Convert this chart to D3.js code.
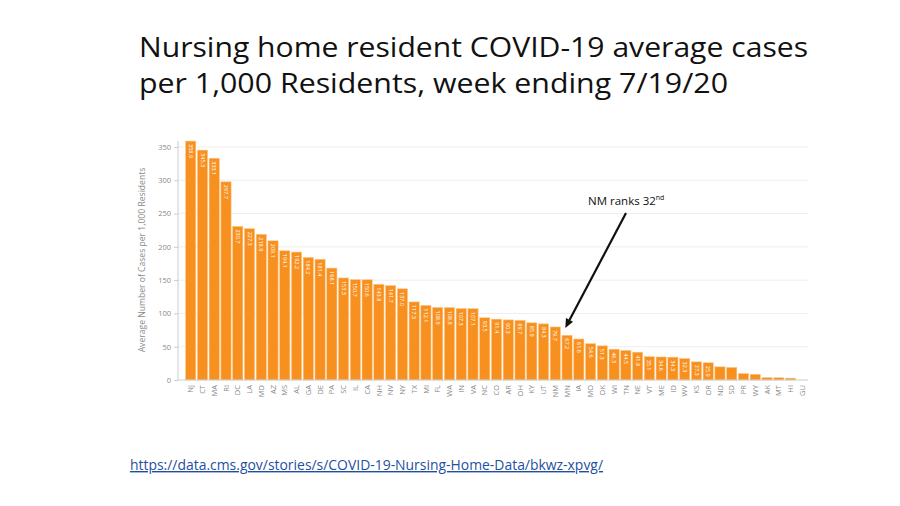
<!DOCTYPE html>
<html><head><meta charset="utf-8">
<script src="https://cdn.jsdelivr.net/npm/d3@7"></script>
<style>body{margin:0;background:#fff}svg{display:block}</style>
</head><body><svg id="c" width="900" height="506"></svg>
<script>
const states = ["NJ","CT","MA","RI","DC","LA","MD","AZ","MS","AL","GA","DE","PA","SC","IL","CA","NH","NV","NY","TX","MI","FL","WA","IN","VA","NC","CO","AR","OH","KY","UT","NM","MN","IA","MO","OK","WI","TN","NE","VT","ME","ID","WV","KS","OR","ND","SD","PR","WY","AK","MT","HI","GU"];
const values = [358.9,345.3,333.1,297.7,230.7,227.3,218.9,209.1,194.1,192.2,184.2,181.4,168.1,153.3,150.7,150.6,143.8,141.7,137.0,117.3,112.1,108.9,108.8,107.3,107.1,93.5,91.4,90.3,89.7,85.9,84.3,79.7,67.2,61.6,54.6,51.3,46.3,44.5,41.8,35.1,34.6,34.3,32.3,27.3,25.9,19.8,18.9,9.6,8.6,3.5,3.4,2.8,0];
const yTicks = [0,50,100,150,200,250,300,350];
const titleLines = ["Nursing home resident COVID-19 average cases","per 1,000 Residents, week ending 7/19/20"];
const yTitle = "Average Number of Cases per 1,000 Residents";
const sourceUrl = "https://data.cms.gov/stories/s/COVID-19-Nursing-Home-Data/bkwz-xpvg/";
const highlight = "NM";

const svg = d3.select("#c");
const x = d3.scaleBand().domain(states).range([185, 808]).paddingInner(0.13).paddingOuter(0.05);
const y = d3.scaleLinear().domain([0, 359]).range([380, 141]);

// Title
svg.append("g").selectAll("text").data(titleLines).join("text")
  .attr("x", 139).attr("y", (d,i)=>57 + i*36)
  .attr("font-family","Open Sans, sans-serif").attr("font-size",28).attr("fill","#111")
  .attr("textLength",(d,i)=> i===0 ? 669 : 589).attr("lengthAdjust","spacingAndGlyphs")
  .text(d=>d);

// gridlines
svg.append("g").selectAll("line").data(yTicks.filter(d=>d>0)).join("line")
  .attr("x1",178).attr("x2",808).attr("y1",d=>y(d)).attr("y2",d=>y(d))
  .attr("stroke","#eeeeee").attr("stroke-width",1);

// y axis
const yAxis = svg.append("g").attr("transform","translate(178,0)")
  .call(d3.axisLeft(y).tickValues(yTicks).tickSize(4).tickPadding(3));
yAxis.select(".domain").attr("stroke","#c8ccd4").attr("d","M0,141V380");
yAxis.selectAll(".tick line").attr("stroke","#c8ccd4");
yAxis.selectAll("text").attr("fill","#8a8a8a").attr("font-family","Open Sans, sans-serif").attr("font-size",7.5);

// y title
svg.append("text").attr("transform","translate(145,260) rotate(-90)")
  .attr("text-anchor","middle").attr("font-family","Open Sans, sans-serif")
  .attr("font-size",8.6).attr("fill","#8a8a8a").text(yTitle);

// bars
svg.append("g").selectAll("rect").data(states).join("rect")
  .attr("x",d=>x(d)).attr("width",x.bandwidth())
  .attr("y",(d,i)=>y(values[i])).attr("height",(d,i)=>y(0)-y(values[i]))
  .attr("fill","#f7901e").attr("stroke","#fbc98a").attr("stroke-width",0.6);

// value labels
svg.append("g").selectAll("text").data(states.filter((d,i)=>values[i]>25)).join("text")
  .attr("transform",d=>{const i=states.indexOf(d);return `translate(${x(d)+x.bandwidth()/2},${y(values[i])+3}) rotate(90)`;})
  .attr("dy","0.35em").attr("font-family","Open Sans, sans-serif").attr("font-size",5.5)
  .attr("fill","#fff").text(d=>values[states.indexOf(d)].toFixed(1));

// x axis
const xAxis = svg.append("g").attr("transform","translate(0,380)")
  .call(d3.axisBottom(x).tickSize(0).tickPadding(4));
xAxis.select(".domain").attr("stroke","#c8ccd4").attr("d","M178,0H808");
xAxis.selectAll("text").attr("transform","rotate(-90)").attr("text-anchor","end")
  .attr("x",-5).attr("y",0).attr("dy","0.35em")
  .attr("fill","#8a8a8a").attr("font-family","Open Sans, sans-serif").attr("font-size",7.5);

// annotation
const hi = states.indexOf(highlight);
const tipX = x(highlight)+x.bandwidth()/2+10, tipY = y(values[hi])+1;
const startX = 626, startY = 213;
const ang = Math.atan2(tipY-startY, tipX-startX);
const ah = 9, aw = 4;
const bx = tipX - ah*Math.cos(ang), by = tipY - ah*Math.sin(ang);
svg.append("line").attr("x1",startX).attr("y1",startY).attr("x2",bx).attr("y2",by)
  .attr("stroke","#111").attr("stroke-width",2.2);
svg.append("path").attr("d",`M${tipX},${tipY}L${bx+aw*Math.sin(ang)},${by-aw*Math.cos(ang)}L${bx-aw*Math.sin(ang)},${by+aw*Math.cos(ang)}Z`)
  .attr("fill","#111");
const ann = svg.append("text").attr("x",588).attr("y",205)
  .attr("font-family","Open Sans, sans-serif").attr("font-size",11.5).attr("fill","#111");
ann.append("tspan").text("NM ranks 32");
ann.append("tspan").attr("dy",-5).attr("font-size",7).text("nd");

// source link
svg.append("text").attr("x",130).attr("y",470)
  .attr("font-family","Open Sans, sans-serif").attr("font-size",14).attr("fill","#1f4fa0")
  .attr("text-decoration","underline").attr("textLength",473).attr("lengthAdjust","spacingAndGlyphs")
  .text(sourceUrl);
</script></body></html>
